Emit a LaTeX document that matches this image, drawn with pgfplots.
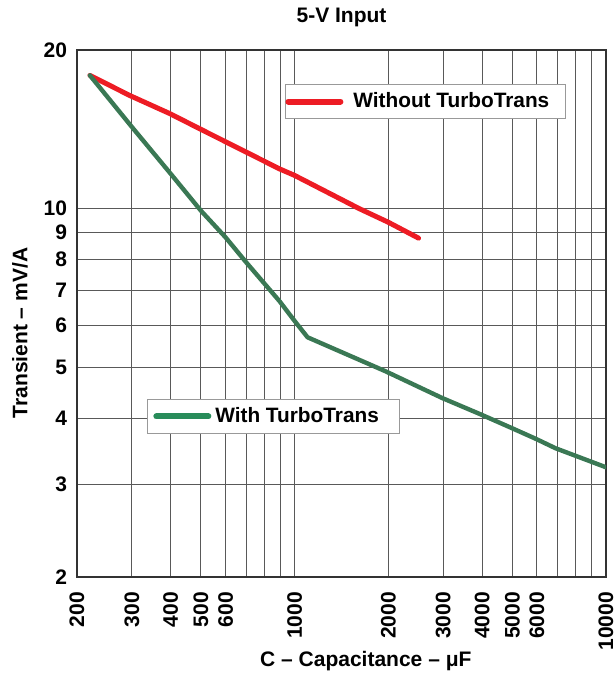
\documentclass[border=0pt]{standalone}
\usepackage{pgfplots}
\pgfplotsset{compat=1.18}
\usetikzlibrary{calc}
\usepackage{fontspec}
\setmainfont{Liberation Sans}

\definecolor{redline}{RGB}{237,28,36}
\definecolor{greenline}{RGB}{58,120,84}
\definecolor{greenleg}{RGB}{40,140,90}

% data
\pgfplotstableread{
C T
220 17.9
295 16.4
397 15.15
507 14.08
699 12.8
893 11.9
1000 11.56
1612 10.0
2000 9.42
2500 8.79
}\without

\pgfplotstableread{
C T
220 17.9
300 14.29
400 11.64
500 9.91
600 8.82
700 7.9
893 6.68
1000 6.12
1100 5.70
1963 4.91
2981 4.37
3958 4.07
5000 3.83
5939 3.66
6887 3.51
10000 3.23
}\with

\pgfplotsset{
  common/.style={
    scale only axis,
    width=264.5pt, height=263.5pt,
    xmin=200, xmax=10000, ymin=2, ymax=20,
    font=\fontsize{10.5}{12}\selectfont\bfseries,
    legend cell align=left,
    legend style={draw=gray!80, line width=0.5pt, fill=white,
      font=\fontsize{10.4}{12}\selectfont\bfseries,
      inner ysep=2pt},
  },
}

\begin{document}
\begin{tikzpicture}
\begin{loglogaxis}[
  common,
  name=ax,
  axis line style={black!80, line width=0.6pt},
  xtick={200,300,400,500,600,700,800,900,1000,2000,3000,4000,5000,6000,7000,8000,9000,10000},
  xticklabels={200,300,400,500,600,,,,1000,2000,3000,4000,5000,6000,,,,10000},
  ytick={2,3,4,5,6,7,8,9,10,20},
  yticklabels={2,3,4,5,6,7,8,9,10,20},
  minor tick num=0,
  major tick length=0pt,
  grid=major,
  major grid style={black!65, line width=0.5pt},
  xticklabel style={rotate=90, anchor=east},
  xticklabel shift=4pt,
  yticklabel shift=1.5pt,
  title={5-V Input},
  title style={at={(axis description cs:0.5,1)}, anchor=south, yshift=2pt},
  xlabel={C – Capacitance – μF},
  xlabel style={at={(axis description cs:0.546,-0.159)}, anchor=center},
  ylabel={Transient – mV/A},
  ylabel style={at={(axis description cs:-0.108,0.463)}, anchor=center, rotate=0},
  legend image code/.code={\draw[redline, line width=3pt, line cap=round] (0pt,0pt) -- (26pt,0pt);},
  legend style={at={(axis description cs:0.393,0.9355)}, anchor=north west, inner xsep=0pt},
]
\addplot[redline, line width=2.5pt, line join=round, line cap=round] table[x=C, y=T] {\without};
\addlegendentry{\hspace{3pt}Without TurboTrans\kern6pt\null}
\end{loglogaxis}
\begin{loglogaxis}[
  common,
  axis lines=none,
  ticks=none,
  legend image code/.code={\draw[greenleg, line width=3pt, line cap=round] (0pt,0pt) -- (26pt,0pt);},
  legend style={at={(axis description cs:0.132,0.338)}, anchor=north west, inner xsep=3pt},
]
\addplot[greenline, line width=2.2pt, line join=round, line cap=round] table[x=C, y=T] {\with};
\addlegendentry{With TurboTrans\kern5.5pt\null}
\end{loglogaxis}
\pgfresetboundingbox
\path[use as bounding box] ($(ax.north west)+(-38.5pt,25pt)$) rectangle ($(ax.south east)+(4.5pt,-48pt)$);
\end{tikzpicture}
\end{document}
